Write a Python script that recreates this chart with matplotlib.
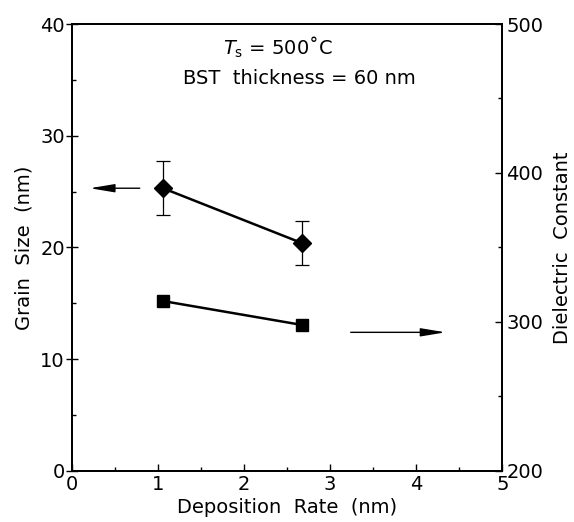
import matplotlib
matplotlib.use('Agg')
import matplotlib.pyplot as plt
from matplotlib.ticker import MultipleLocator

plt.rcParams['font.family'] = ['DejaVu Sans']
plt.rcParams['mathtext.fontset'] = 'dejavusans'

# data
rate = [1.06, 2.67]                 # deposition rate (nm)
grain = [25.3, 20.4]                # grain size (nm)
grain_err = [2.4, 2.0]
dielectric = [314, 298]             # dielectric constant

fs = 14

fig = plt.figure(figsize=(5.74, 5.22), dpi=100)
ax = fig.add_axes([0.125, 0.098, 0.75, 0.856])
ax2 = ax.twinx()

arrow = dict(arrowstyle='-|>,head_length=1.5,head_width=0.25', color='black',
             lw=1.0, mutation_scale=10, shrinkA=0, shrinkB=0)

# grain size (left axis)
ax.errorbar(rate, grain, yerr=grain_err, color='black', marker='D', ms=9,
            lw=1.8, capsize=4.7, elinewidth=0.9, capthick=0.9)
ax.annotate('', xy=(0.21, 25.3), xytext=(0.79, 25.3), arrowprops=arrow)

# dielectric constant (right axis)
ax2.plot(rate, dielectric, color='black', marker='s', ms=9, lw=1.8)
ax2.annotate('', xy=(4.34, 293), xytext=(3.24, 293), arrowprops=arrow)

ax.set_xlim(0, 5)
ax.set_ylim(0, 40)
ax2.set_ylim(200, 500)

ax.xaxis.set_major_locator(MultipleLocator(1))
ax.xaxis.set_minor_locator(MultipleLocator(0.5))
ax.yaxis.set_major_locator(MultipleLocator(10))
ax.yaxis.set_minor_locator(MultipleLocator(5))
ax2.yaxis.set_major_locator(MultipleLocator(100))
ax2.yaxis.set_minor_locator(MultipleLocator(50))

ax.tick_params(axis='x', which='major', direction='in', length=5, width=1,
               labelsize=fs, pad=3, top=False)
ax.tick_params(axis='x', which='minor', direction='in', length=3, width=1, top=False)
ax.tick_params(axis='y', which='major', direction='inout', length=8, width=1,
               labelsize=fs, pad=1)
ax.tick_params(axis='y', which='minor', direction='in', length=3, width=1)
ax2.tick_params(axis='y', which='major', direction='in', length=5, width=1,
                labelsize=fs, pad=3)
ax2.tick_params(axis='y', which='minor', direction='in', length=3, width=1)

for a in (ax, ax2):
    for s in a.spines.values():
        s.set_linewidth(1.3)

ax.set_xlabel('Deposition  Rate  (nm)', fontsize=fs, labelpad=3)
ax.set_ylabel('Grain  Size  (nm)', fontsize=fs, labelpad=5)
ax2.set_ylabel('Dielectric  Constant', fontsize=fs, labelpad=7)

ax.text(0.352, 0.948, r'$T_\mathregular{s}$ = 500˚C', transform=ax.transAxes,
        fontsize=fs, va='center', ha='left')
ax.text(0.258, 0.878, 'BST  thickness = 60 nm', transform=ax.transAxes,
        fontsize=fs, va='center', ha='left')

fig.savefig('out.png', dpi=100)
